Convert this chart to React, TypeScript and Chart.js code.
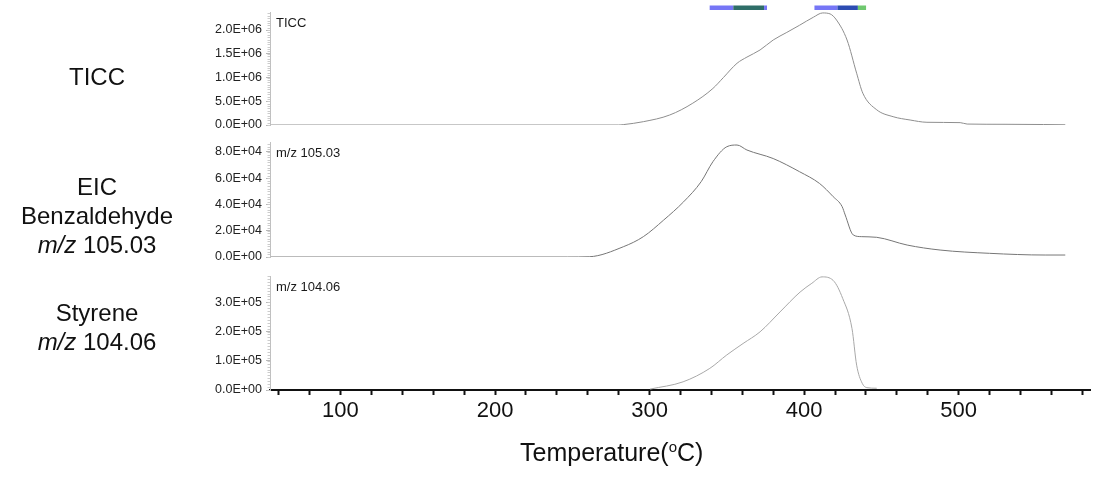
import React, { useEffect, useRef } from "react";
import { Chart, registerables } from "chart.js";
Chart.register(...registerables);

// ---------- data ----------
const X_MIN = 54.4;
const X_MAX = 585;
const xTickValues = [60, 80, 100, 120, 140, 160, 180, 200, 220, 240, 260, 280, 300, 320, 340, 360, 380, 400, 420, 440, 460, 480, 500, 520, 540, 560, 580];
const xLabelValues = [100, 200, 300, 400, 500];

const ticcTemp = [55, 280, 283, 296, 313, 328, 341, 347.8, 356.6, 363, 371.5, 380, 388.8, 397, 406, 412, 416.8, 421, 427.8, 434, 438, 447, 457.6, 468.6, 479.5, 501, 505.5, 530, 555, 569];
const ticcVal = [0, 0, 8000, 70000, 210000, 460000, 770000, 1000000, 1300000, 1430000, 1580000, 1790000, 1950000, 2100000, 2270000, 2360000, 2340000, 2210000, 1790000, 1090000, 670000, 320000, 175000, 105000, 57000, 50000, 20000, 15000, 10000, 5000];

const benzTemp = [55, 247, 261, 283, 296, 309, 322, 333.4, 341, 350, 356.6, 363, 380, 397, 410, 418.8, 424.6, 426.6, 431.8, 437, 447, 466.7, 488, 520, 556, 569];
const benzVal = [0, 0, 200, 7800, 15500, 28000, 42000, 57400, 72600, 84000, 85300, 81500, 75000, 65000, 56000, 46000, 38400, 32000, 16800, 15500, 15000, 9100, 5300, 2800, 1500, 1500];

const styTemp = [300.3, 321.7, 339, 350, 360.5, 371.5, 384.4, 397.4, 405, 411.6, 418.8, 425, 431, 434, 437.6, 440.6, 447];
const styVal = [3000, 28000, 74000, 120000, 159000, 199000, 267000, 335000, 365000, 387000, 375000, 313000, 210000, 85000, 23000, 8000, 6000];

const ticcYMax = 2.38e6;
const ticcYTicks = [0, 5e5, 1e6, 1.5e6, 2e6];
const benzYMax = 8.76e4;
const benzYTicks = [0, 2e4, 4e4, 6e4, 8e4];
const styYMax = 3.9e5;
const styYTicks = [0, 1e5, 2e5, 3e5];

const panelLabels = ["TICC", "m/z 105.03", "m/z 104.06"];

const barStart = [338.9, 354.2, 374.1, 406.7, 421.6, 434.8];
const barEnd = [354.2, 374.1, 376.0, 421.6, 434.8, 440.1];

// ---------- styles ----------
const FONT = "'Liberation Sans', Arial, Helvetica, sans-serif";
const barColors = ["#7676f6", "#2f6e68", "#7676f6", "#7676f6", "#2c4cb2", "#6fc86f"];

function sci(v: number): string {
  if (v === 0) return "0.0E+00";
  const e = Math.floor(Math.log10(v) + 1e-9);
  const m = v / Math.pow(10, e);
  return m.toFixed(1) + "E+" + String(e).padStart(2, "0");
}

type PanelProps = {
  top: number;
  height: number;
  padding: { top: number; bottom: number; left: number; right: number };
  temps: number[];
  vals: number[];
  yMax: number;
  yTicks: number[];
  label: string;
  color: string;
  showX: boolean;
  bars: boolean;
};

function Panel(p: PanelProps) {
  const ref = useRef<HTMLCanvasElement | null>(null);
  useEffect(() => {
    if (!ref.current) return;
    const minorStep = (p.yTicks[1] - p.yTicks[0]) / 10;
    const overlay = {
      id: "overlay",
      afterDraw(chart: any) {
        const ctx = chart.ctx;
        const ca = chart.chartArea;
        const ys = chart.scales.y;
        const xs = chart.scales.x;
        ctx.save();
        // minor y ticks
        ctx.strokeStyle = "#cccccc";
        ctx.lineWidth = 1;
        ctx.beginPath();
        for (let v = 0; v <= p.yMax + 1e-9; v += minorStep) {
          const y = Math.round(ys.getPixelForValue(v)) + 0.5;
          ctx.moveTo(ca.left - 2.5, y);
          ctx.lineTo(ca.left, y);
        }
        ctx.stroke();
        // panel label
        ctx.fillStyle = "#1a1a1a";
        ctx.font = "13px " + FONT;
        ctx.textBaseline = "alphabetic";
        ctx.textAlign = "left";
        ctx.fillText(p.label, ca.left + 6, ca.top + 14.5);
        // bars
        if (p.bars) {
          for (let i = 0; i < barStart.length; i++) {
            const x1 = xs.getPixelForValue(barStart[i]);
            const x2 = xs.getPixelForValue(barEnd[i]);
            ctx.fillStyle = barColors[i];
            ctx.fillRect(x1, ca.top - 6.5, x2 - x1, 4.5);
          }
        }
        ctx.restore();
      },
    };
    const chart = new Chart(ref.current, {
      type: "line",
      data: {
        datasets: [
          {
            data: p.temps.map((t, i) => ({ x: t, y: p.vals[i] })),
            borderColor: p.color,
            borderWidth: 1,
            pointRadius: 0,
            cubicInterpolationMode: "monotone",
            fill: false,
          },
        ],
      },
      options: {
        responsive: false,
        animation: false,
        layout: { padding: p.padding },
        plugins: { legend: { display: false }, tooltip: { enabled: false } },
        scales: {
          x: {
            type: "linear",
            min: X_MIN,
            max: X_MAX,
            display: p.showX,
            afterBuildTicks: (s: any) => {
              s.ticks = xTickValues.map((v) => ({ value: v }));
            },
            afterFit: (s: any) => {
              s.height = p.showX ? 60 : 0;
            },
            grid: { drawOnChartArea: false, tickLength: 5, tickColor: "#111", tickWidth: 2 },
            border: { color: "#111", width: 2 },
            ticks: {
              padding: 3,
              autoSkip: false,
              maxRotation: 0,
              color: "#111",
              font: { family: FONT, size: 22 },
              callback: (v: any) => (xLabelValues.includes(Number(v)) ? String(v) : ""),
            },
          },
          y: {
            type: "linear",
            min: 0,
            max: p.yMax,
            afterBuildTicks: (s: any) => {
              s.ticks = p.yTicks.map((v) => ({ value: v }));
            },
            afterFit: (s: any) => {
              s.width = 270 - p.padding.left;
            },
            grid: { drawOnChartArea: false, tickLength: 4, tickColor: "#b8b8b8" },
            border: { color: "#c0c0c0", width: 1 },
            ticks: {
              padding: 4,
              color: "#222",
              font: { family: FONT, size: 12.5 },
              callback: (v: any) => sci(Number(v)),
            },
          },
        },
      } as any,
      plugins: [overlay],
    });
    return () => chart.destroy();
  }, []);
  return (
    <canvas
      ref={ref}
      width={1120}
      height={p.height}
      style={{ position: "absolute", left: 0, top: p.top, width: 1120, height: p.height }}
    />
  );
}

const sideStyle: React.CSSProperties = {
  position: "absolute",
  left: 0,
  width: 194,
  textAlign: "center",
  fontFamily: FONT,
  fontSize: 24,
  lineHeight: "29px",
  color: "#111",
};

export default function App() {
  return (
    <div
      style={{
        position: "fixed",
        left: 0,
        top: 0,
        width: 1120,
        height: 479,
        background: "#fff",
        overflow: "hidden",
      }}
    >
      <Panel
        top={0}
        height={145}
        padding={{ top: 12, bottom: 20, left: 0, right: 30 }}
        temps={ticcTemp}
        vals={ticcVal}
        yMax={ticcYMax}
        yTicks={ticcYTicks}
        label={panelLabels[0]}
        color="#8e8e8e"
        showX={false}
        bars={true}
      />
      <Panel
        top={120}
        height={157}
        padding={{ top: 22, bottom: 20, left: 0, right: 30 }}
        temps={benzTemp}
        vals={benzVal}
        yMax={benzYMax}
        yTicks={benzYTicks}
        label={panelLabels[1]}
        color="#767676"
        showX={false}
        bars={false}
      />
      <Panel
        top={255}
        height={224}
        padding={{ top: 21, bottom: 29, left: 0, right: 30 }}
        temps={styTemp}
        vals={styVal}
        yMax={styYMax}
        yTicks={styYTicks}
        label={panelLabels[2]}
        color="#a8a8a8"
        showX={true}
        bars={false}
      />
      <div style={{ ...sideStyle, top: 62 }}>TICC</div>
      <div style={{ ...sideStyle, top: 172 }}>
        EIC
        <br />
        Benzaldehyde
        <br />
        <i>m/z</i> 105.03
      </div>
      <div style={{ ...sideStyle, top: 298 }}>
        Styrene
        <br />
        <i>m/z</i> 104.06
      </div>
      <div
        style={{
          position: "absolute",
          left: 520,
          top: 432,
          fontFamily: FONT,
          fontSize: 25,
          lineHeight: "30px",
          color: "#111",
          whiteSpace: "nowrap",
        }}
      >
        Temperature(<span style={{ fontSize: 15, verticalAlign: "9px" }}>o</span>C)
      </div>
    </div>
  );
}
